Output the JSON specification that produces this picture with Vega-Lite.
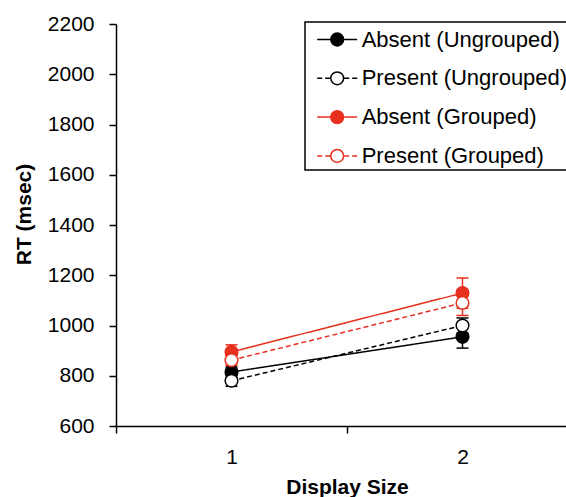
{
  "$schema": "https://vega.github.io/schema/vega-lite/v6.json",
  "width": 462,
  "height": 402,
  "autosize": {"type": "none"},
  "padding": {"left": 116, "top": 24, "right": 0, "bottom": 71},
  "background": "white",
  "config": {
    "view": {"stroke": null},
    "font": "Liberation Sans",
    "axis": {
      "domainColor": "black",
      "domainWidth": 1.5,
      "tickColor": "black",
      "tickWidth": 1.5,
      "tickSize": 7,
      "labelFont": "Liberation Sans",
      "labelFontSize": 21,
      "labelColor": "black",
      "titleFont": "Liberation Sans",
      "titleFontSize": 21,
      "titleFontWeight": "bold",
      "titleColor": "black",
      "grid": false
    },
    "legend": {
      "orient": "none",
      "legendX": 189,
      "legendY": -2,
      "padding": 3,
      "symbolSize": 711,
      "symbolOffset": 14.7,
      "symbolStrokeWidth": 1.5,
      "labelOffset": 10,
      "labelFont": "Liberation Sans",
      "labelFontSize": 22,
      "labelColor": "black",
      "labelLimit": 400,
      "rowPadding": 12.8,
      "strokeColor": "black"
    }
  },
  "data": {
    "values": [
      {"size": "1", "series": "Absent (Ungrouped)", "target": "Absent", "rt": 815, "lo": 795, "hi": 835},
      {"size": "1", "series": "Present (Ungrouped)", "target": "Present", "rt": 780, "lo": 758, "hi": 802},
      {"size": "1", "series": "Absent (Grouped)", "target": "Absent", "rt": 895, "lo": 867, "hi": 923},
      {"size": "1", "series": "Present (Grouped)", "target": "Present", "rt": 862, "lo": 842, "hi": 882},
      {"size": "2", "series": "Absent (Ungrouped)", "target": "Absent", "rt": 955, "lo": 910, "hi": 1000},
      {"size": "2", "series": "Present (Ungrouped)", "target": "Present", "rt": 1000, "lo": 970, "hi": 1030},
      {"size": "2", "series": "Absent (Grouped)", "target": "Absent", "rt": 1129, "lo": 1069, "hi": 1189},
      {"size": "2", "series": "Present (Grouped)", "target": "Present", "rt": 1090, "lo": 1040, "hi": 1140}
    ]
  },
  "encoding": {
    "x": {
      "field": "size",
      "type": "ordinal",
      "title": "Display Size",
      "scale": {"type": "band", "paddingInner": 0, "paddingOuter": 0},
      "axis": {"labelAngle": 0, "tickBand": "extent", "labelPadding": 13, "titlePadding": 9}
    },
    "y": {
      "field": "rt",
      "type": "quantitative",
      "title": "RT (msec)",
      "scale": {"domain": [600, 2200], "nice": false, "zero": false},
      "axis": {"values": [600, 800, 1000, 1200, 1400, 1600, 1800, 2000, 2200], "format": "d", "labelPadding": 15, "titlePadding": 13, "titleY": 190}
    },
    "color": {
      "field": "series",
      "type": "nominal",
      "title": null,
      "scale": {
        "domain": ["Absent (Ungrouped)", "Present (Ungrouped)", "Absent (Grouped)", "Present (Grouped)"],
        "range": ["#000000", "#000000", "#E8301F", "#E8301F"]
      },
      "legend": {
        "encode": {
          "legend": {"update": {"strokeWidth": {"value": 1.5}}},
          "symbols": {
            "update": {
              "shape": {"signal": "indexof(datum.label, 'Present') == 0 ? 'M-1.5,0H-1.125M-0.9,0H-0.525M0.525,0H0.9M1.125,0H1.5M0.48,0A0.48,0.48,0,1,1,-0.48,0A0.48,0.48,0,1,1,0.48,0Z' : 'M-1.5,0H-0.48M0.48,0H1.5M0.48,0A0.48,0.48,0,1,1,-0.48,0A0.48,0.48,0,1,1,0.48,0Z'"},
              "opacity": {"value": 1},
              "fillOpacity": {"value": 1},
              "strokeOpacity": {"value": 1},
              "strokeWidth": {"value": 1.5}
            }
          }
        }
      }
    }
  },
  "layer": [
    {
      "mark": {"type": "line", "strokeWidth": 1.5},
      "encoding": {
        "strokeDash": {
          "field": "target",
          "type": "nominal",
          "legend": null,
          "scale": {"domain": ["Absent", "Present"], "range": [[1, 0], [5, 3]]}
        }
      }
    },
    {
      "mark": {"type": "rule", "strokeWidth": 1.5},
      "encoding": {
        "y": {"field": "lo", "type": "quantitative"},
        "y2": {"field": "hi"}
      }
    },
    {
      "mark": {"type": "point", "shape": "M-1,0H1", "filled": false, "size": 144, "strokeWidth": 1.5, "opacity": 1},
      "encoding": {"y": {"field": "lo", "type": "quantitative"}}
    },
    {
      "mark": {"type": "point", "shape": "M-1,0H1", "filled": false, "size": 144, "strokeWidth": 1.5, "opacity": 1},
      "encoding": {"y": {"field": "hi", "type": "quantitative"}}
    },
    {
      "mark": {"type": "point", "shape": "circle", "filled": false, "size": 160, "strokeWidth": 1.5, "opacity": 1},
      "encoding": {
        "fill": {
          "field": "series",
          "type": "nominal",
          "title": null,
          "scale": {
            "domain": ["Absent (Ungrouped)", "Present (Ungrouped)", "Absent (Grouped)", "Present (Grouped)"],
            "range": ["#000000", "#FFFFFF", "#E8301F", "#FFFFFF"]
          }
        }
      }
    }
  ]
}
